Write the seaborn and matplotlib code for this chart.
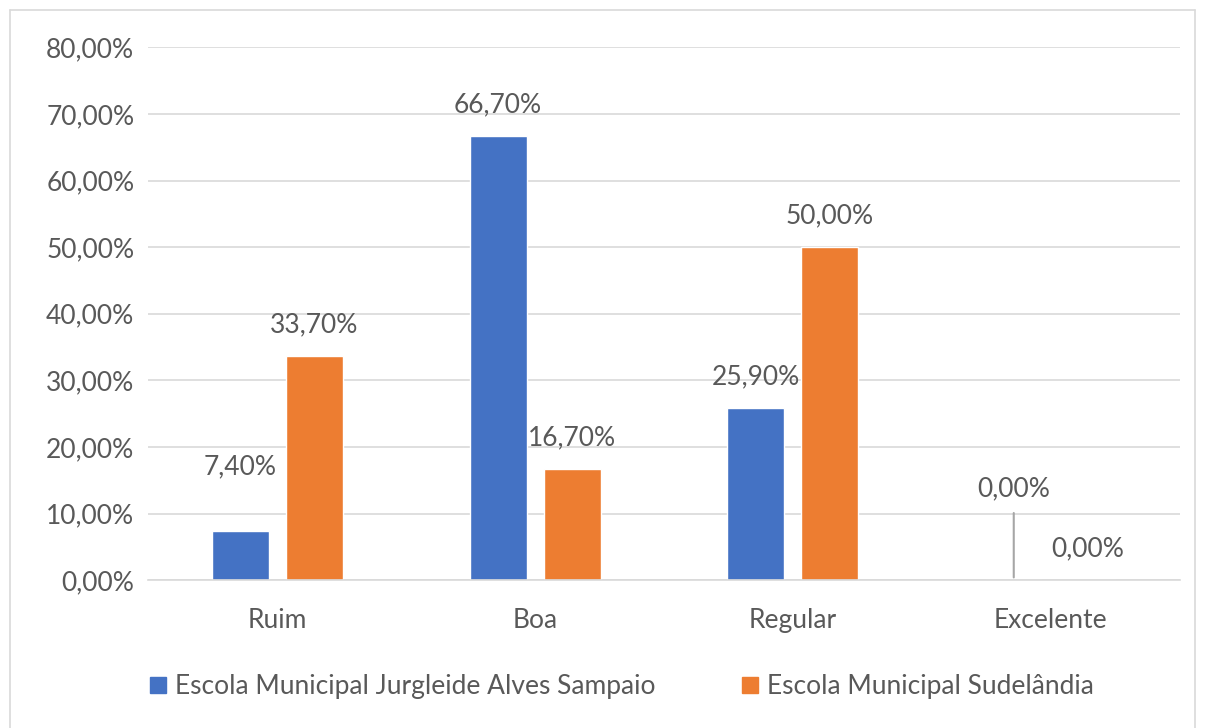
import pandas as pd
import matplotlib.pyplot as plt
import seaborn as sns
from matplotlib.lines import Line2D
from matplotlib.ticker import FuncFormatter

# Dados do gráfico
categorias = ['Ruim', 'Boa', 'Regular', 'Excelente']
escolas = ['Escola Municipal Jurgleide Alves Sampaio', 'Escola Municipal Sudelândia']
jurgleide = [0.074, 0.667, 0.259, 0.0]
sudelandia = [0.337, 0.167, 0.50, 0.0]

df = pd.DataFrame({
    'Categoria': categorias * 2,
    'Escola': [escolas[0]] * 4 + [escolas[1]] * 4,
    'Valor': jurgleide + sudelandia,
})

cores = ['#4472C4', '#ED7D31']
cinza = '#595959'
fs = 19

sns.set_theme(style='white')
plt.rcParams['font.family'] = ['Lato', 'DejaVu Sans']

fig = plt.figure(figsize=(12.05, 7.28), dpi=100)
ax = fig.add_axes([0.123, 0.203, 0.856, 0.732])

sns.barplot(data=df, x='Categoria', y='Valor', hue='Escola', palette=cores,
            saturation=1, width=0.574, gap=0.23, ax=ax, legend=False)

ax.set_xlim(-0.5, 3.5)
ax.set_ylim(0, 0.8)
ax.set_yticks([i / 10 for i in range(9)])
ax.yaxis.set_major_formatter(FuncFormatter(lambda v, p: f'{v * 100:.2f}%'.replace('.', ',')))
ax.grid(axis='y', color='#D9D9D9', linewidth=1.2)
ax.set_axisbelow(True)
for s in ['top', 'right', 'left']:
    ax.spines[s].set_visible(False)
ax.spines['bottom'].set_color('#D9D9D9')
ax.spines['bottom'].set_linewidth(1.2)
ax.tick_params(axis='both', length=0, labelsize=fs, colors=cinza, pad=10)
ax.tick_params(axis='x', pad=20)
ax.set_xlabel('')
ax.set_ylabel('')

# Rótulos de dados
for i, cont in enumerate(ax.containers):
    for j, barra in enumerate(cont):
        valor = barra.get_height()
        x = barra.get_x() + barra.get_width() / 2
        texto = f'{valor * 100:.2f}%'.replace('.', ',')
        desloc = 31
        if i == 0 and j == 0:
            desloc = 64
        if i == 0 and valor == 0:
            desloc = 91
            ax.annotate('', xy=(x, 0), xytext=(0, 70), textcoords='offset pixels',
                        xycoords='data',
                        arrowprops=dict(arrowstyle='-', color='#A6A6A6', lw=1.5))
        ax.annotate(texto, (x, valor), xytext=(0, desloc), textcoords='offset pixels',
                    ha='center', va='center', fontsize=fs, color=cinza)

handles = [Line2D([0], [0], marker='s', linestyle='', markersize=12,
                  markerfacecolor=c, markeredgecolor=c) for c in cores]
fig.legend(handles, escolas, loc='center', bbox_to_anchor=(0.515, 0.057), ncol=2,
           frameon=False, fontsize=fs, labelcolor=cinza, handletextpad=0.25,
           columnspacing=3.2, handlelength=0.8)

# Moldura
for coords in [([0.008, 0.992], [0.986, 0.986]), ([0.008, 0.008], [0, 0.986]),
               ([0.992, 0.992], [0, 0.986])]:
    fig.add_artist(Line2D(coords[0], coords[1], color='#D9D9D9', lw=1.2,
                          transform=fig.transFigure))

fig.savefig('out.png', dpi=100, facecolor='white')
